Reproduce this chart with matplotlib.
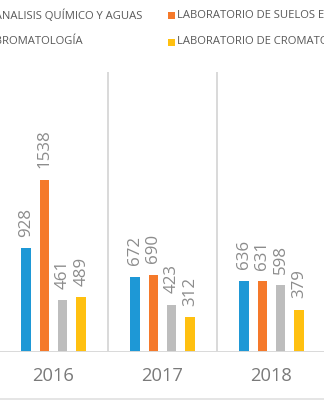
import matplotlib
matplotlib.use("Agg")
import matplotlib.pyplot as plt
from matplotlib.patches import Rectangle
from matplotlib.lines import Line2D

years = ["2016", "2017", "2018"]
series_names = [
    "LABORATORIO DE ANALISIS QUÍMICO Y AGUAS",
    "LABORATORIO DE SUELOS E INSUMOS",
    "LABORATORIO DE BROMATOLOGÍA",
    "LABORATORIO DE CROMATOGRAFÍA",
]
analisis = [928, 672, 636]
suelos = [1538, 690, 631]
bromatologia = [461, 423, 598]
cromatografia = [489, 312, 379]
series_values = [analisis, suelos, bromatologia, cromatografia]
colors = ["#1E98D6", "#F5792A", "#BDBDBD", "#FFC010"]

plt.rcParams["font.family"] = ["Open Sans", "DejaVu Sans"]

W, H = 324, 400
fig = plt.figure(figsize=(W / 100, H / 100), dpi=100)
fig.patch.set_facecolor("white")

ax = fig.add_axes([0, (H - 352) / H, 1, (352 - 72) / H])
ax.set_facecolor("white")

x = list(range(len(years)))
bar_w = 0.087
step = 0.169
for i, (vals, col) in enumerate(zip(series_values, colors)):
    off = (i - 1.5) * step
    xs = [xi + off for xi in x]
    bars = ax.bar(xs, vals, width=bar_w, color=col, zorder=3)
    for b, v in zip(bars, vals):
        ax.annotate(str(v), (b.get_x() + b.get_width() / 2, v),
                    xytext=(0, 8.2), textcoords="offset points",
                    rotation=90, ha="center", va="bottom",
                    fontsize=12.2, color="#8C8C8C", zorder=4)

ax.set_xlim(-53.5 / 109, (W - 53.5) / 109)
ax.set_ylim(0, 2500)
for sep in [0.5, 1.5, 2.5]:
    ax.axvline(sep, color="#D9D9D9", lw=1.4, zorder=1)
ax.axhline(0, color="#D9D9D9", lw=1.4, zorder=5)
for s in ax.spines.values():
    s.set_visible(False)
ax.set_yticks([])
ax.set_xticks(x)
ax.set_xticklabels([])
ax.tick_params(length=0)
for xi, yr in zip(x, years):
    ax.text(xi, -0.085, yr, transform=ax.get_xaxis_transform(),
            ha="center", va="center", fontsize=13.2, color="#7A7A7A")

# bottom border of the chart area
fig.add_artist(Line2D([0, 1], [1.5 / H, 1.5 / H], color="#E0E0E0", lw=1.2,
                      transform=fig.transFigure))

# legend laid out in two columns
renderer = fig.canvas.get_renderer()
leg_fs = 8.15
row_y = [(H - 15.5) / H, (H - 42) / H]
probe = fig.text(143 / W, row_y[0], series_names[0], ha="right", va="center",
                 fontsize=leg_fs, color="#595959")
bb = probe.get_window_extent(renderer)
col1_left = bb.x0
probe.remove()
col2_marker = 167.5
sq = 7
for idx, name in enumerate(series_names):
    col = idx % 2
    row = idx // 2
    mx = (col1_left - 10) if col == 0 else col2_marker
    tx = mx + 9.5
    cy = row_y[row] * H
    fig.add_artist(Rectangle((mx / W, (cy - sq / 2) / H), sq / W, sq / H,
                             transform=fig.transFigure,
                             facecolor=colors[idx], edgecolor="none"))
    fig.text(tx / W, row_y[row], name, ha="left", va="center",
             fontsize=leg_fs, color="#595959")

fig.savefig("out.png", dpi=100, facecolor="white")
